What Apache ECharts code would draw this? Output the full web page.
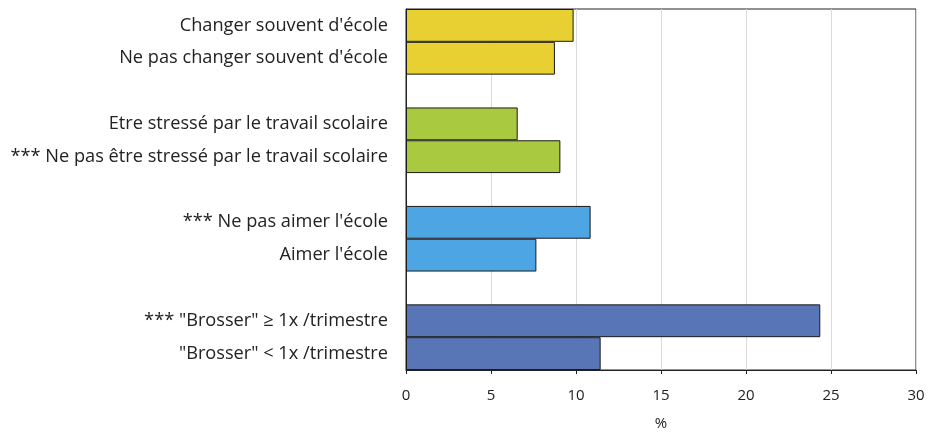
<!DOCTYPE html>
<html><head><meta charset="utf-8">
<script src="https://cdn.jsdelivr.net/npm/echarts@6/dist/echarts.min.js"></script>
<style>html,body{margin:0;padding:0;background:#fff}#c{width:929px;height:432px}</style>
</head><body><div id="c"></div>
<script>
const categories = [
  "Changer souvent d'école",
  "Ne pas changer souvent d'école",
  "",
  "Etre stressé par le travail scolaire",
  "*** Ne pas être stressé par le travail scolaire",
  " ",
  "*** Ne pas aimer l'école",
  "Aimer l'école",
  "  ",
  "*** \"Brosser\" ≥ 1x /trimestre",
  "\"Brosser\" < 1x /trimestre"
];
const values = [9.86, 8.76, null, 6.57, 9.08, null, 10.86, 7.67, null, 24.37, 11.45];
const groupOf = [0, 0, -1, 1, 1, -1, 2, 2, -1, 3, 3];
const xTicks = [0, 5, 10, 15, 20, 25, 30];
const xTitle = "%";

const groupColors = ['#E8D032', '#A8C940', '#4DA6E3', '#5876B6'];

const chart = echarts.init(document.getElementById('c'));
const font = '"Open Sans", sans-serif';
chart.setOption({
  animation: false,
  grid: {left: 406, right: 13, top: 9, bottom: 62, containLabel: false, outerBoundsMode: 'none',
         show: true, borderColor: '#222', borderWidth: 1},
  xAxis: {
    type: 'value', min: xTicks[0], max: xTicks[xTicks.length - 1], interval: 5,
    name: xTitle, nameLocation: 'middle', nameGap: 46,
    nameTextStyle: {fontFamily: font, fontSize: 15, color: '#222'},
    axisLine: {show: true, lineStyle: {color: '#222', width: 1}},
    axisTick: {show: true, inside: false, length: 4, lineStyle: {color: '#222'}},
    axisLabel: {fontFamily: font, fontSize: 15, color: '#222', margin: 18},
    splitLine: {show: true, lineStyle: {color: '#d9d9d9', width: 1}}
  },
  yAxis: {
    type: 'category', data: categories, inverse: true,
    axisLine: {show: true, lineStyle: {color: '#222', width: 1}},
    axisTick: {show: false},
    axisLabel: {fontFamily: font, fontSize: 18.2, color: '#222', margin: 18},
    splitLine: {show: false}
  },
  series: [{
    type: 'bar', barWidth: '100%',
    data: values.map((v, i) => v === null ? '-' : {
      value: v,
      itemStyle: {color: groupColors[groupOf[i]], borderColor: '#1a1a1a', borderWidth: 1}
    })
  }]
});
</script></body></html>
